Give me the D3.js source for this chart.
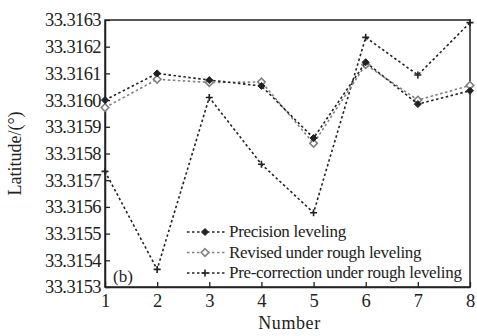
<!DOCTYPE html>
<html>
<head>
<meta charset="utf-8">
<script src="https://cdn.jsdelivr.net/npm/d3@7"></script>
<style>
  body { margin: 0; background: #fff; }
  text { font-family: "Liberation Serif", "DejaVu Serif", serif; fill: #222; }
</style>
</head>
<body>
<svg id="chart" width="477" height="336"></svg>
<script>
// x categories
var numbers = [1, 2, 3, 4, 5, 6, 7, 8];
// series values (latitude, degrees)
var precision = [33.31600, 33.31610, 33.316075, 33.316053, 33.315858, 33.316142, 33.315985, 33.316035];
var revised   = [33.315972, 33.316078, 33.316066, 33.316068, 33.315838, 33.316133, 33.316000, 33.316055];
var preCorr   = [33.315733, 33.315366, 33.316010, 33.315760, 33.315578, 33.316235, 33.316094, 33.316290];
var yTicks = [33.3153, 33.3154, 33.3155, 33.3156, 33.3157, 33.3158, 33.3159, 33.3160, 33.3161, 33.3162, 33.3163];
var seriesNames = ['Precision leveling', 'Revised under rough leveling', 'Pre-correction under rough leveling'];

var svg = d3.select('#chart');
var plotL = 105, plotR = 470, plotT = 20, plotB = 287;

var x = d3.scaleLinear().domain([1, 8]).range([plotL, plotR]);
var y = d3.scaleLinear().domain([33.3153, 33.3163]).range([plotB, plotT]);

// frame
svg.append('rect')
    .attr('x', plotL).attr('y', plotT)
    .attr('width', plotR - plotL).attr('height', plotB - plotT)
    .attr('fill', 'none').attr('stroke', '#222').attr('stroke-width', 1.5);

// axes with inward ticks
var xAxis = svg.append('g')
    .attr('transform', 'translate(0,' + plotB + ')')
    .call(d3.axisBottom(x).tickValues(numbers).tickSizeInner(-5).tickSizeOuter(0).tickPadding(7).tickFormat(d3.format('d')));
var yAxis = svg.append('g')
    .attr('transform', 'translate(' + plotL + ',0)')
    .call(d3.axisLeft(y).tickValues(yTicks).tickSizeInner(-5).tickSizeOuter(0).tickPadding(4).tickFormat(d3.format('.4f')));
[xAxis, yAxis].forEach(function(a) {
    a.select('.domain').attr('stroke', '#222').attr('stroke-width', 1.5);
    a.selectAll('.tick line').attr('stroke', '#222').attr('stroke-width', 1.3);
    a.selectAll('text').attr('font-size', 18.5).attr('fill', '#222')
        .style('font-family', '"Liberation Serif", serif');
});
yAxis.selectAll('text').attr('letter-spacing', -0.6);

// axis titles
svg.append('text')
    .attr('x', (plotL + plotR) / 2 + 2).attr('y', 329)
    .attr('text-anchor', 'middle').attr('font-size', 18)
    .attr('letter-spacing', 0.6)
    .text('Number');
svg.append('text')
    .attr('transform', 'translate(21,' + (plotT + plotB) / 2 + ') rotate(-90)')
    .attr('text-anchor', 'middle').attr('font-size', 18)
    .text('Latitude/(°)');

svg.append('text')
    .attr('x', 113).attr('y', 282)
    .attr('font-size', 17)
    .text('(b)');

var line = d3.line()
    .x(function(d, i) { return x(numbers[i]); })
    .y(function(d) { return y(d); });

var series = [
    { name: seriesNames[0], values: precision, color: '#222', marker: 'filled' },
    { name: seriesNames[1], values: revised, color: '#808080', marker: 'open' },
    { name: seriesNames[2], values: preCorr, color: '#222', marker: 'plus' }
];

function drawMarker(g, type, color) {
    if (type === 'filled') {
        g.append('path').attr('d', 'M0,-3.5L3.5,0L0,3.5L-3.5,0Z')
            .attr('fill', color).attr('stroke', color).attr('stroke-width', 1);
    } else if (type === 'open') {
        g.append('path').attr('d', 'M0,-3.8L3.8,0L0,3.8L-3.8,0Z')
            .attr('fill', '#fff').attr('stroke', color).attr('stroke-width', 1.6);
    } else {
        g.append('path').attr('d', 'M-3.5,0H3.5M0,-3.5V3.5')
            .attr('stroke', color).attr('stroke-width', 1.6).attr('fill', 'none');
    }
}

// draw order: pre-correction, revised, precision on top
[2, 1, 0].forEach(function(k) {
    var s = series[k];
    svg.append('path')
        .datum(s.values)
        .attr('d', line)
        .attr('fill', 'none')
        .attr('stroke', s.color)
        .attr('stroke-width', 1.6)
        .attr('stroke-dasharray', '2.5,2.5');
    svg.selectAll('.m' + k)
        .data(s.values)
        .enter()
        .append('g')
        .attr('transform', function(d, i) { return 'translate(' + x(numbers[i]) + ',' + y(d) + ')'; })
        .each(function() { drawMarker(d3.select(this), s.marker, s.color); });
});

// legend
var legend = svg.append('g');
series.forEach(function(s, i) {
    var ly = 232 + i * 20.5;
    legend.append('line')
        .attr('x1', 187).attr('x2', 226)
        .attr('y1', ly).attr('y2', ly)
        .attr('stroke', s.color).attr('stroke-width', 1.6)
        .attr('stroke-dasharray', '2.5,2.5');
    drawMarker(legend.append('g').attr('transform', 'translate(205,' + ly + ')'), s.marker, s.color);
    legend.append('text')
        .attr('x', 229).attr('y', ly + 5)
        .attr('font-size', 17)
        .attr('letter-spacing', -0.3)
        .text(s.name);
});
</script>
</body>
</html>
